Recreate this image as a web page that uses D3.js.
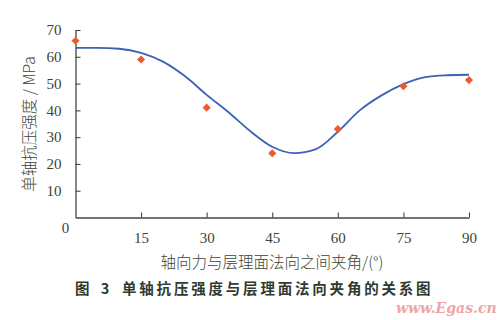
<!DOCTYPE html>
<html>
<head>
<meta charset="utf-8">
<script src="https://cdn.jsdelivr.net/npm/d3@7"></script>
<style>
  body { margin: 0; background: #fff; }
  svg { display: block; }
</style>
</head>
<body>
<div id="chart"></div>
<script>
// measured points (angle, strength)
const angles = [0, 15, 30, 45, 60, 75, 90]
const strength = [66, 59, 41, 24, 33, 49, 51.3]

// fitted curve, every 5 degrees
const fitAngles = [0, 5, 10, 15, 20, 25, 30, 35, 40, 45, 50, 55, 60, 65, 70, 75, 80, 85, 90]
const fitValues = [63.3, 63.3, 63.0, 61.5, 58.2, 52.8, 45.8, 39.3, 32.2, 26.4, 24.0, 25.5, 32, 40, 45.6, 49.8, 52.4, 53.1, 53.3]

const xTicks = [15, 30, 45, 60, 75, 90]
const yTicks = [10, 20, 30, 40, 50, 60, 70]

const W = 500, H = 320
const axisColor = '#3f4a3f'
const textColor = '#3b4438'

const svg = d3.select('#chart')
    .append('svg')
    .attr('width', W)
    .attr('height', H)

const xScale = d3.scaleLinear()
    .domain([0, 90])
    .range([75.5, 469])

const yScale = d3.scaleLinear()
    .domain([0, 70])
    .range([217.5, 30])

////////////// axes //////////////
const xAxis = d3.axisBottom(xScale)
    .tickValues(xTicks)
    .tickSizeInner(-5)
    .tickSizeOuter(0)
    .tickPadding(15)

const yAxis = d3.axisLeft(yScale)
    .tickValues(yTicks)
    .tickSizeInner(-5)
    .tickSizeOuter(0)
    .tickPadding(14)

const gx = svg.append('g')
    .attr('transform', `translate(0,${yScale(0)})`)
    .call(xAxis)

const gy = svg.append('g')
    .attr('transform', `translate(${xScale(0)},0)`)
    .call(yAxis)

for (let g of [gx, gy]) {
    g.select('.domain').attr('stroke', axisColor).attr('stroke-width', 1.3)
    g.selectAll('.tick line').attr('stroke', axisColor).attr('stroke-width', 1.1)
    g.selectAll('.tick text')
        .attr('fill', textColor)
        .style('font-family', '"Liberation Serif", "DejaVu Serif", serif')
        .style('font-size', '15px')
}

// lone zero at the origin
svg.append('text')
    .text('0')
    .attr('x', xScale(0) - 10)
    .attr('y', yScale(0) + 15)
    .attr('text-anchor', 'middle')
    .attr('fill', textColor)
    .style('font-family', '"Liberation Serif", serif')
    .style('font-size', '15px')

////////////// labels //////////////
svg.append('text')
    .text('单轴抗压强度 / MPa')
    .attr('text-anchor', 'middle')
    .attr('fill', textColor)
    .style('font-family', '"Noto Sans CJK SC", sans-serif')
    .style('font-size', '15.5px')
    .style('font-weight', 300)
    .attr('transform', `translate(35,124) rotate(-90)`)

svg.append('text')
    .text('轴向力与层理面法向之间夹角/(°)')
    .attr('x', 272)
    .attr('y', 268)
    .attr('text-anchor', 'middle')
    .attr('fill', textColor)
    .style('font-family', '"Noto Sans CJK SC", sans-serif')
    .style('font-size', '15.5px')
    .style('font-weight', 300)

svg.append('text')
    .text('图 3')
    .attr('x', 75)
    .attr('y', 294)
    .attr('fill', '#2f3a30')
    .style('font-family', '"Noto Sans CJK SC", sans-serif')
    .style('font-size', '14.5px')
    .style('font-weight', 700)
    .style('letter-spacing', '4px')

svg.append('text')
    .text('单轴抗压强度与层理面法向夹角的关系图')
    .attr('x', 122)
    .attr('y', 294)
    .attr('fill', '#2f3a30')
    .style('font-family', '"Noto Sans CJK SC", sans-serif')
    .style('font-size', '14.5px')
    .style('font-weight', 700)
    .style('letter-spacing', '2.8px')

svg.append('text')
    .text('www.Egas.cn')
    .attr('x', 396)
    .attr('y', 313)
    .attr('fill', '#f2a3a6')
    .style('font-family', '"DejaVu Serif", serif')
    .style('font-style', 'italic')
    .style('font-size', '14px')
    .style('font-weight', 700)

////////////// fitted curve //////////////
const fit = fitAngles.map((a, i) => [a, fitValues[i]])

const line = d3.line()
    .x(d => xScale(d[0]))
    .y(d => yScale(d[1]))
    .curve(d3.curveMonotoneX)

svg.append('path')
    .datum(fit)
    .attr('d', line)
    .attr('fill', 'none')
    .attr('stroke', '#3d62b3')
    .attr('stroke-width', 1.8)

////////////// points //////////////
const diamond = d3.symbol().type(d3.symbolDiamond2).size(42)

svg.selectAll('.points')
    .data(angles)
    .join('path')
    .attr('class', 'points')
    .attr('d', diamond)
    .attr('transform', (d, i) => `translate(${xScale(d)},${yScale(strength[i])})`)
    .attr('fill', '#ec5a2e')
</script>
</body>
</html>
